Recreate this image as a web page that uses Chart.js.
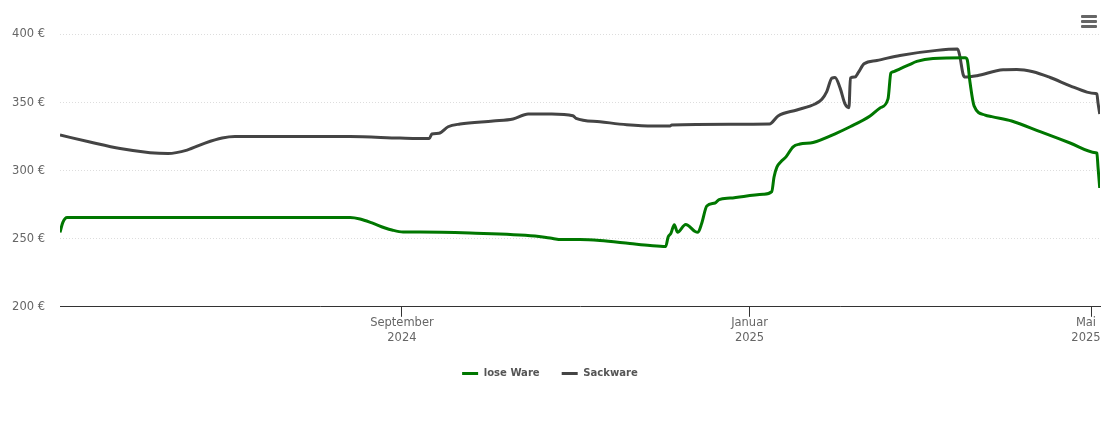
<!DOCTYPE html>
<html>
<head>
<title>Preisentwicklung</title>
<script src="https://cdn.jsdelivr.net/npm/chart.js"></script>
<style>
body { margin:0; background:white; font-family:"DejaVu Sans"; }
.wrap { position:relative; width:1110px; height:423px; }
.menu { position:absolute; left:1081px; top:15px; width:16px; }
.menu div { height:3px; margin-bottom:2px; background:#666; border-radius:1px; }
</style>
</head>
<body>

<div class="wrap">
<canvas id="chart"></canvas>
<div class="menu"><div></div><div></div><div></div></div>
</div>

<script>
// days since 4 May 2024
const looseDays = [0,1,2.5,101.8,105.3,109.5,114.1,116.5,120.4,126.4,143.9,166.7,172,176.2,182.5,189.5,200,207.1,212.6,213.4,214.4,215.6,216.7,219.6,222.9,223.9,225.2,227,229.9,231.3,235.2,246.8,249.8,250.6,251.6,253,254.8,257.3,259.7,264.3,272.6,277.3,284.3,287.8,290.6,291.6,292.5,294.8,297.7,300.7,306.4,317.7,318.4,319.4,320.8,324.7,327,334,344,354.5,363.5,363.9,364.3,364.9];
const looseValues = [254.5,261.9,265.5,265.5,264.4,261.5,257.8,256.3,254.9,254.9,254.1,251.9,250.4,249.3,249.3,248.6,246.4,244.9,244.2,251,253.8,260.2,254.7,260.4,255.2,254.7,261.1,273.9,276.1,278.6,279.7,282.5,284.5,295.2,302.4,306.3,309.9,317.3,319.3,320.5,327.4,332,339.9,345.8,352.4,371.4,372.4,374.5,377.1,379.9,382.1,382.6,381.1,364.2,347.3,340.6,339.4,336.2,328.4,320.1,313,312.7,302.6,287.1];

const sackDays = [0,10.5,21.1,31.6,37.9,44.6,50.9,56.9,61.4,101.8,119.3,129.6,130.5,133,136.2,140.4,152,159,164.3,172.6,180,181.1,189.5,198.9,208.1,214.1,214.7,235.2,249,252,258.6,265,267.4,269.1,270.9,272,273.8,275.5,276.9,277.4,279,280.2,282.2,286.7,294.8,307.7,315,315.7,317,317.7,321.8,331,335.8,341.5,347.5,354.5,360.4,363.5,363.9,364.3,364.9];
const sackValues = [325.9,320.8,316,313,312.4,314.9,320,323.7,324.8,324.8,323.7,323.3,326.7,327.2,332,334,336.2,337.7,341.4,341.4,340.1,338.2,335.7,333.5,332.5,332.5,333.3,333.8,334,339.9,344.3,348.7,352.2,357.8,367.7,368.1,360.3,348.7,346,367.7,368.4,371.8,378.2,380.6,384.3,388,389,384.8,370.1,368.4,369.4,373.8,374,372.3,368.1,362,357.4,356.3,356.1,349.5,341.4];

const tickDays = [120,242,362];
// trailing spaces keep the last label inside the plot edge
const tickLabels = [["September","2024"],["Januar","2025"],["Mai   ","2025   "]];

function points(days, values){
    return days.map((d,i)=>({x:d, y:values[i]}));
}

new Chart(document.getElementById("chart"), {
    type:"line",
    data:{
        datasets:[
            {label:"lose Ware", data:points(looseDays,looseValues), borderColor:"#007700", backgroundColor:"#007700", borderWidth:3},
            {label:"Sackware", data:points(sackDays,sackValues), borderColor:"#444444", backgroundColor:"#444444", borderWidth:3}
        ]
    },
    options:{
        responsive:true,
        maintainAspectRatio:false,
        animation:false,
        layout:{ padding:{ top:34, right:10, bottom:34 } },
        elements:{
            point:{ radius:0 },
            line:{ cubicInterpolationMode:"monotone" }
        },
        plugins:{
            tooltip:{ enabled:false },
            legend:{
                position:"bottom",
                labels:{
                    usePointStyle:true,
                    pointStyle:"line",
                    pointStyleWidth:16,
                    color:"#555",
                    padding:22,
                    font:{ family:"DejaVu Sans Condensed", size:11.2, weight:"bold" }
                }
            }
        },
        scales:{
            x:{
                type:"linear",
                min:0,
                max:365,
                afterBuildTicks:axis=>{ axis.ticks = tickDays.map(d=>({value:d})); },
                afterFit:axis=>{ axis.height = 39; axis.paddingLeft = 0; axis.paddingRight = 0; },
                border:{ color:"#333" },
                grid:{ drawOnChartArea:false, tickLength:10, tickColor:"#333" },
                ticks:{
                    maxRotation:0,
                    autoSkip:false,
                    padding:-1,
                    color:"#666",
                    font:{ family:"DejaVu Sans", size:11.5, lineHeight:1.3 },
                    callback:v=>tickLabels[tickDays.indexOf(v)]
                }
            },
            y:{
                min:200,
                max:400,
                afterFit:axis=>{ axis.width = 60; },
                border:{ display:false, dash:[1,2] },
                grid:{ color:"#ddd", lineWidth:1, drawTicks:false },
                ticks:{
                    stepSize:50,
                    padding:15,
                    labelOffset:0.5,
                    color:"#666",
                    font:{ family:"DejaVu Sans", size:11.5 },
                    callback:v=>v+" €"
                }
            }
        }
    }
});
</script>

</body>
</html>
